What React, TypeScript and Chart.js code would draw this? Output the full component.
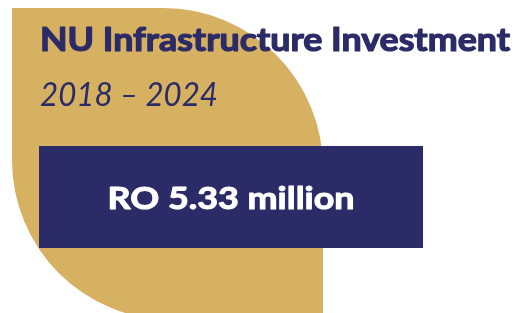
import React, { useEffect, useRef } from "react";
import { Chart, registerables } from "chart.js";

Chart.register(...registerables);

const categories: string[] = ["2018 – 2024"];
const investmentMillions: number[] = [5.33];
const titleText = "NU Infrastructure Investment";
const subtitleText = "2018 – 2024";
const currency = "RO";
const unit = "million";

const NAVY = "#2b2b68";
const GOLD = "#d7b162";

function fitText(
  ctx: CanvasRenderingContext2D,
  text: string,
  font: string,
  x: number,
  y: number,
  width: number,
  align: "left" | "center",
  stroke = 0
) {
  ctx.save();
  ctx.font = font;
  const w = ctx.measureText(text).width;
  const s = width / w;
  ctx.translate(x, y);
  ctx.scale(s, 1);
  ctx.textAlign = align;
  ctx.textBaseline = "alphabetic";
  ctx.fillText(text, 0, 0);
  if (stroke > 0) {
    ctx.strokeStyle = ctx.fillStyle;
    ctx.lineWidth = stroke;
    ctx.lineJoin = "round";
    ctx.strokeText(text, 0, 0);
  }
  ctx.restore();
}

const leafPlugin = {
  id: "leafBackground",
  beforeDatasetsDraw(chart: any) {
    const ctx: CanvasRenderingContext2D = chart.ctx;
    const L = 12, T = 8, R = 323, B = 320, r = 160;
    ctx.save();
    ctx.fillStyle = GOLD;
    ctx.beginPath();
    ctx.moveTo(L, T);
    ctx.lineTo(R - r, T);
    ctx.arc(R - r, T + r, r, -Math.PI / 2, 0);
    ctx.lineTo(R, B);
    ctx.lineTo(L + r, B);
    ctx.arc(L + r, B - r, r, Math.PI / 2, Math.PI);
    ctx.closePath();
    ctx.fill();
    ctx.restore();
  },
};

const textPlugin = {
  id: "infoText",
  afterDraw(chart: any) {
    const ctx: CanvasRenderingContext2D = chart.ctx;
    ctx.save();
    ctx.fillStyle = NAVY;
    fitText(ctx, titleText, "bold 32px Lato", 40, 51, 470, "left", 1.2);
    fitText(ctx, subtitleText, "italic 400 33px Lato", 40, 106, 178, "left");
    const meta = chart.getDatasetMeta(0);
    meta.data.forEach((el: any, i: number) => {
      const p = el.getProps(["x", "y", "base"], true);
      const cx = (p.x + p.base) / 2;
      const v = chart.data.datasets[0].data[i] as number;
      ctx.fillStyle = "#ffffff";
      fitText(ctx, `${currency} ${v.toFixed(2)} ${unit}`, "bold 31px Lato", cx, p.y + 12, 247, "center", 1);
    });
    ctx.restore();
  },
};

export default function App() {
  const ref = useRef<HTMLCanvasElement | null>(null);
  useEffect(() => {
    if (!ref.current) return;
    const chart = new Chart(ref.current, {
      type: "bar",
      data: {
        labels: categories,
        datasets: [
          {
            data: investmentMillions,
            backgroundColor: NAVY,
            borderWidth: 0,
            barPercentage: 1,
            categoryPercentage: 1,
          },
        ],
      },
      options: {
        indexAxis: "y",
        animation: false,
        responsive: false,
        devicePixelRatio: 1,
        layout: { padding: { left: 39, right: 93, top: 146, bottom: 65 } },
        scales: {
          x: { display: false, min: 0, max: 5.33 },
          y: { display: false },
        },
        plugins: {
          legend: { display: false },
          tooltip: { enabled: false },
          title: { display: false },
        },
      },
      plugins: [leafPlugin, textPlugin],
    });
    return () => chart.destroy();
  }, []);
  return (
    <div style={{ position: "fixed", left: 0, top: 0, width: 516, height: 313, background: "#fff" }}>
      <canvas ref={ref} width={516} height={313} style={{ display: "block" }} />
    </div>
  );
}
